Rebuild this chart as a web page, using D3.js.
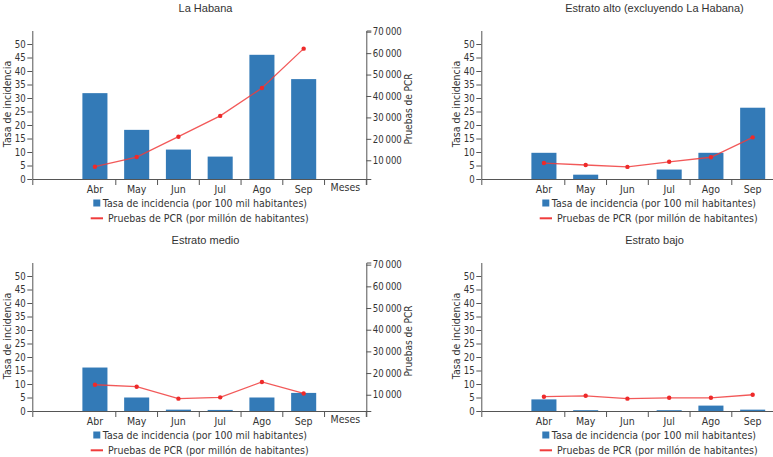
<!DOCTYPE html>
<html>
<head>
<meta charset="utf-8">
<script src="https://cdn.jsdelivr.net/npm/d3@7"></script>
<style>
  html, body { margin: 0; padding: 0; background: #fff; }
  svg { display: block; }
</style>
</head>
<body>
<svg id="chart" width="773" height="457"></svg>
<script>
// ---- data ----
const categorias = ["", "Abr", "May", "Jun", "Jul", "Ago", "Sep", "Meses"];
const meses = ["Abr", "May", "Jun", "Jul", "Ago", "Sep"];
const titulos = ["La Habana", "Estrato alto (excluyendo La Habana)", "Estrato medio", "Estrato bajo"];
const tasaHabana = [31.8, 18.2, 10.9, 8.3, 46.0, 37.0];
const pcrHabana  = [7000, 11500, 21000, 30700, 43700, 62100];
const tasaAlto   = [9.7, 1.6, 0, 3.5, 9.7, 26.4];
const pcrAlto    = [8700, 7800, 6900, 9300, 11400, 20700];
const tasaMedio  = [16.1, 5.0, 0.5, 0.4, 5.0, 6.7];
const pcrMedio   = [14600, 13700, 8200, 8800, 15900, 10600];
const tasaBajo   = [4.3, 0.3, 0, 0.3, 2.0, 0.5];
const pcrBajo    = [9100, 9500, 8200, 8600, 8600, 10000];
const tasaTicks  = [0, 5, 10, 15, 20, 25, 30, 35, 40, 45, 50];
const pcrTicks   = [10000, 20000, 30000, 40000, 50000, 60000, 70000];
const pcrDominioSup = [1260, 70560];
const pcrDominioInf = [2500, 71000];
const leyenda = ["Tasa de incidencia (por 100 mil habitantes)", "Pruebas de PCR (por millón de habitantes)"];
const ejeIzq = "Tasa de incidencia";
const ejeDer = "Pruebas de PCR";

// ---- layout ----
const SQ = 0.86;                 // horizontal squeeze of text glyphs
const BAR = "#337ab7", RED = "#f03c3c", AX = "#555", TXT = "#333";
const FONT = "'DejaVu Sans', sans-serif";
const pLeft = 32.3, pRight = 366.3, pBase = 179, pTop = 30.5;
const W = 773;

const svg = d3.select("#chart");

const paneles = [
  {ox: 0,   oy: 0,   t: titulos[0], tasa: tasaHabana, pcr: pcrHabana, dom: pcrDominioSup},
  {ox: 449, oy: 0,   t: titulos[1], tasa: tasaAlto,   pcr: pcrAlto,   dom: pcrDominioSup},
  {ox: 0,   oy: 232, t: titulos[2], tasa: tasaMedio,  pcr: pcrMedio,  dom: pcrDominioInf},
  {ox: 449, oy: 232, t: titulos[3], tasa: tasaBajo,   pcr: pcrBajo,   dom: pcrDominioInf}
];

function squeeze(sel, dx) {
  sel.each(function() {
    d3.select(this).attr("x", null).attr("transform", `translate(${dx},0) scale(${SQ},1)`);
  });
}

paneles.forEach(p => {
  const g = svg.append("g").attr("transform", `translate(${p.ox},${p.oy})`);
  const fits = px => p.ox + px < W;   // parts of the panel that fall inside the picture

  const x = d3.scaleBand().domain(categorias).range([pLeft, pRight]);
  const bw = x.bandwidth();
  const y = d3.scaleLinear().domain([0, 55]).range([pBase, pTop]);
  const yR = d3.scaleLinear().domain(p.dom).range([pBase, pTop]);

  // title
  g.append("text").attr("x", 205.5).attr("y", 12)
    .attr("text-anchor", "middle")
    .style("font-family", "'Liberation Sans', Arial, sans-serif")
    .style("font-size", "11px").attr("fill", TXT).text(p.t);

  // bars
  g.selectAll("rect.bar").data(meses).join("rect")
    .attr("class", "bar")
    .attr("x", d => x(d) + bw * 0.2)
    .attr("width", bw * 0.6)
    .attr("y", (d, i) => y(p.tasa[i]))
    .attr("height", (d, i) => pBase - y(p.tasa[i]))
    .attr("fill", BAR);

  // x axis
  const gx = g.append("g").attr("transform", `translate(0,${pBase})`)
    .call(d3.axisBottom(x).tickSize(6).tickSizeOuter(6));
  gx.selectAll(".tick line").attr("transform", `translate(${bw / 2},0)`);
  gx.selectAll(".tick").filter(d => d === "").select("line").remove();
  gx.selectAll(".tick text").attr("y", 6)
    .style("font-family", FONT).style("font-size", "11px").attr("fill", TXT);
  gx.selectAll(".tick").filter(d => d === "Meses").select("text").attr("y", 4);
  gx.selectAll(".tick").filter(d => !fits(x(d) + bw / 2 + 14)).select("text").remove();
  squeeze(gx.selectAll(".tick text"), 0);

  // left axis
  const gy = g.append("g").attr("transform", `translate(${pLeft},0)`)
    .call(d3.axisLeft(y).tickValues(tasaTicks).tickSize(5).tickSizeOuter(0));
  gy.selectAll(".tick text")
    .style("font-family", FONT).style("font-size", "10px").attr("fill", TXT);
  squeeze(gy.selectAll(".tick text"), -6.5);

  const axes = [gx, gy];

  // right axis (only where it falls inside the picture)
  if (fits(pRight + 45)) {
    const fmt = d => d3.format(",")(d).replace(/,/g, "\u2009");
    const gr = g.append("g").attr("transform", `translate(${pRight},0)`)
      .call(d3.axisRight(yR).tickValues(pcrTicks).tickFormat(fmt).tickSize(5).tickSizeOuter(5));
    gr.selectAll(".tick text")
      .style("font-family", FONT).style("font-size", "10px").attr("fill", TXT);
    squeeze(gr.selectAll(".tick text"), 6.5);
    axes.push(gr);

    g.append("text")
      .attr("transform", `translate(408.5,109) rotate(-90) scale(${SQ},1)`)
      .attr("text-anchor", "middle").attr("dy", "0.35em")
      .style("font-family", FONT).style("font-size", "10.5px").attr("fill", TXT)
      .text(ejeDer);
  }

  axes.forEach(a => {
    a.selectAll("path.domain, .tick line").attr("stroke", AX);
  });

  // left axis title
  g.append("text")
    .attr("transform", `translate(7.5,104) rotate(-90) scale(${SQ},1)`)
    .attr("text-anchor", "middle").attr("dy", "0.35em")
    .style("font-family", FONT).style("font-size", "11px").attr("fill", TXT)
    .text(ejeIzq);

  // PCR line
  const line = d3.line()
    .x((d, i) => x(meses[i]) + bw / 2)
    .y(d => yR(d));
  g.append("path").datum(p.pcr)
    .attr("d", line).attr("fill", "none")
    .attr("stroke", RED).attr("stroke-width", 1.3).attr("stroke-opacity", 0.85);
  g.selectAll("circle.pt").data(p.pcr).join("circle")
    .attr("class", "pt")
    .attr("cx", (d, i) => x(meses[i]) + bw / 2)
    .attr("cy", d => yR(d))
    .attr("r", 2.2).attr("fill", "#ee2a2a");

  // legend
  const lg = g.append("g");
  lg.append("rect").attr("x", 93.3).attr("y", 199.5).attr("width", 7).attr("height", 7).attr("fill", BAR);
  lg.append("text").attr("transform", `translate(102.7,207) scale(${SQ},1)`)
    .style("font-family", FONT).style("font-size", "11px").attr("fill", TXT).text(leyenda[0]);
  lg.append("line").attr("x1", 90.7).attr("x2", 103).attr("y1", 218.3).attr("y2", 218.3)
    .attr("stroke", RED).attr("stroke-width", 2);
  lg.append("text").attr("transform", `translate(108,222.3) scale(${SQ},1)`)
    .style("font-family", FONT).style("font-size", "11px").attr("fill", TXT).text(leyenda[1]);
});
</script>
</body>
</html>
